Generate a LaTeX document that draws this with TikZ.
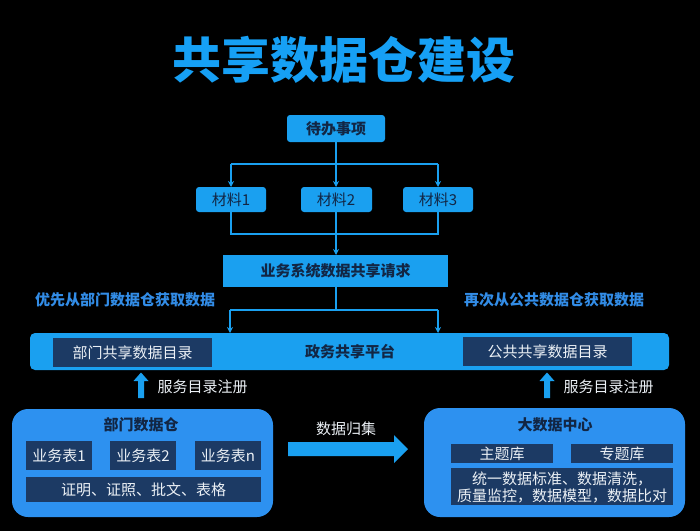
\documentclass[tikz,border=0pt]{standalone}
\usepackage{fontspec}
\setmainfont{Noto Sans CJK SC}
\usetikzlibrary{arrows.meta}
\definecolor{bright}{RGB}{26,160,240}
\definecolor{bigbox}{RGB}{45,145,240}
\definecolor{darkbox}{RGB}{28,58,100}
\definecolor{darktxt}{RGB}{18,38,68}
\definecolor{lbl}{RGB}{50,140,230}
\definecolor{titleblue}{RGB}{22,160,245}
\definecolor{lightxt}{RGB}{235,240,245}
\tikzset{
  brightbox/.style={fill=bright,draw=none,inner sep=0pt,text=darktxt},
  darkrect/.style={fill=darkbox,draw=none,inner sep=0pt,text=lightxt},
  bigpanel/.style={fill=bigbox,draw=none,rounded corners=16pt,inner sep=0pt},
  conn/.style={draw=bright,line width=1.3pt},
  connarrow/.style={conn,-{Stealth[length=6pt,width=6pt]}},
  fs/.style={font=\fontsize{15}{17}\selectfont},
  fsb/.style={font=\fontsize{15}{17}\selectfont\bfseries},
}
\begin{document}
\begin{tikzpicture}[x=1pt,y=-1pt]
\fill[black] (0,0) rectangle (700,531);
\useasboundingbox (0,0) rectangle (700,531);

\node[text=titleblue,font=\fontsize{49}{55}\selectfont\bfseries] (title) at (344,60) {共享数据仓建设};

% top box
\path[brightbox,rounded corners=3pt] (287,115) rectangle (385,142);
\node[fsb,text=darktxt] (todo) at (336,128.5) {待办事项};
\coordinate (todoB) at (336,142);

\path[brightbox,rounded corners=3pt] (196,187) rectangle (266,212);
\node[fs,text=darktxt] (m1) at (231,199.5) {材料1};
\path[brightbox,rounded corners=3pt] (301,187) rectangle (372,212);
\node[fs,text=darktxt] (m2) at (336,199.5) {材料2};
\path[brightbox,rounded corners=3pt] (403,187) rectangle (473,212);
\node[fs,text=darktxt] (m3) at (438,199.5) {材料3};

\coordinate (split1) at (336,164);
\coordinate (s1L) at (231,164);
\coordinate (s1R) at (438,164);
\coordinate (m1T) at (231,187);
\coordinate (m2T) at (336,187);
\coordinate (m3T) at (438,187);
\draw[conn] (todoB) -- (split1);
\draw[conn] (s1L) -- (s1R);
\draw[connarrow] (s1L) -- (m1T);
\draw[connarrow] (split1) -- (m2T);
\draw[connarrow] (s1R) -- (m3T);

\coordinate (m1B) at (231,212);
\coordinate (m2B) at (336,212);
\coordinate (m3B) at (438,212);
\coordinate (j1L) at (231,234);
\coordinate (j1C) at (336,234);
\coordinate (j1R) at (438,234);
\draw[conn] (m1B) -- (j1L) -- (j1R) -- (m3B);
\draw[conn] (m2B) -- (j1C);

\path[brightbox] (223,255) rectangle (448,287);
\node[fsb,text=darktxt] (req) at (335.5,271) {业务系统数据共享请求};
\coordinate (reqT) at (336,255);
\coordinate (reqB) at (336,287);
\draw[connarrow] (j1C) -- (reqT);

\coordinate (j2C) at (336,310);
\coordinate (j2L) at (230,310);
\coordinate (j2R) at (438,310);
\coordinate (platL) at (230,333);
\coordinate (platR) at (438,333);
\draw[conn] (reqB) -- (j2C);
\draw[conn] (j2L) -- (j2R);
\draw[connarrow] (j2L) -- (platL);
\draw[connarrow] (j2R) -- (platR);

\node[fsb,text=lbl] (lblL) at (125,300) {优先从部门数据仓获取数据};
\node[fsb,text=lbl] (lblR) at (554,300) {再次从公共数据仓获取数据};

% platform
\path[brightbox,rounded corners=5pt] (30,333) rectangle (669,370);
\node[fsb,text=darktxt] (plat) at (350,352) {政务共享平台};
\path[darkrect] (53,338) rectangle (212,367);
\node[fs,text=lightxt] (deptcat) at (132.5,352.5) {部门共享数据目录};
\path[darkrect] (463,337) rectangle (632,366);
\node[fs,text=lightxt] (pubcat) at (547.5,351.5) {公共共享数据目录};

% up arrows
\fill[bright] (138,398) -- (138,381) -- (133.5,381) -- (141,372.5) -- (148.5,381) -- (144,381) -- (144,398) -- cycle;
\node[fs,text=lightxt,anchor=west] (regL) at (154,387) {服务目录注册};
\fill[bright] (544,398) -- (544,381) -- (539.5,381) -- (547,372.5) -- (554.5,381) -- (550,381) -- (550,398) -- cycle;
\node[fs,text=lightxt,anchor=west] (regR) at (560,387) {服务目录注册};

% department warehouse
\path[bigpanel] (12,409) rectangle (273,517);
\node[fsb,text=darktxt] (dept) at (141,425) {部门数据仓};
\path[darkrect] (26,441) rectangle (92,470);
\node[fs,text=lightxt] (t1) at (59,455.5) {业务表1};
\path[darkrect] (110,441) rectangle (176,470);
\node[fs,text=lightxt] (t2) at (143,455.5) {业务表2};
\path[darkrect] (195,441) rectangle (261,470);
\node[fs,text=lightxt] (tn) at (228,455.5) {业务表n};
\path[darkrect] (26,477) rectangle (261,502);
\node[fs,text=lightxt] (docs) at (143.5,489.5) {证明、证照、批文、表格};

% big data center
\path[bigpanel] (424,408) rectangle (685,517);
\node[fsb,text=darktxt] (bdc) at (555,425) {大数据中心};
\path[darkrect] (451,444) rectangle (553,463);
\node[fs,text=lightxt] (zt) at (502,453.5) {主题库};
\path[darkrect] (571,444) rectangle (673,463);
\node[fs,text=lightxt] (zht) at (622,453.5) {专题库};
\path[darkrect] (451,468) rectangle (673,505);
\node[fs,text=lightxt,align=center] (std) at (562,487) {统一数据标准、数据清洗，\\质量监控，数据模型，数据比对};

% collect arrow
\fill[bright] (288,442) -- (394,442) -- (394,435) -- (408,449) -- (394,463) -- (394,456) -- (288,456) -- cycle;
\node[fs,text=lightxt] (collect) at (346,429) {数据归集};
\end{tikzpicture}
\end{document}
